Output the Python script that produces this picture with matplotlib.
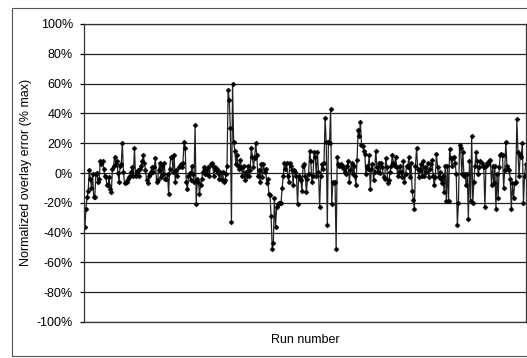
import matplotlib
matplotlib.use("Agg")
import matplotlib.pyplot as plt
from matplotlib.patches import Rectangle
from matplotlib.ticker import FuncFormatter
import numpy as np

# normalized overlay error per run, in % of max (left to right)
seg_1 = [-36, -24, -16, -12, 2, -4, -10, -1, -16, -16, -1, 0, -6, -4, 8, 6, 8, 3,
         -2, -3, -8, -8, -3, -11, -13, 3, 5, 11, 6, 8, 0, -6, 5, 6, 20, 1, -7, -6,
         -6, -4, -3, -2, 1, 4, -2, 17, -2, 1, 2, -2, 3, 5, 8, 12, 7, 2, -5, -7,
         -2, -1, 1, 4, 1, 4, 10, -6, -5, 2, 7, -3, 5, -1, 7, -4, -4, -1, -14, 3, 11]
seg_2 = [11, 1, 12, -6, 2, -2, 4, 5, 6, 4, 7, 21, 17, -6, -11, -2, 0, -5, 5, -1,
         -6, 32, -21, -4, -6, -14, -8, -4, 1, 4, -1, 3, -1, 4, -2, 6, 7, 5, -2, 4,
         2, 3, 0, -4, 1, -5, 1, -6, -5, -1, 5, 56, 49, 30, -33, 60, 21, 15, 6, 12,
         5, 3, 9, 4, -2, 5, -5, 1, -2, 5, -2, 2, 17, 11, 4, 10, 20, 12, -2, 2, -6, 6]
seg_3 = [-3, 6, 1, 3, -7, -4, -14, -15, -29, -51, -47, -17, -36, -23, -21, -20,
         -20, -20, -10, -2, 7, 3, 7, -2, -6, 7, 5, 2, -8, 2, 1, -2, -21, -2, -4,
         -5, -12, 5, 6, -2, -13, -4, -1, 15, 8, -6, -2, 14, 11, -2, 14, 1, -23,
         -2, 6, 3, 7, 37, 21, -35, 21, 20, 43, -21, -6, -7, -6, -51, 11, 6, 5, 6,
         4, 5, 3, 1, -1, 5, 8, -6, 2]
seg_4 = [7, -1, 5, -2, -8, 9, 29, 25, 34, 19, 18, 15, 13, -1, 5, 3, 12, -11, 3, 6,
         -5, 1, 15, 4, 1, 7, 0, 7, 4, -3, -4, 10, 4, -7, -5, 1, 5, 12, 7, 5, 11,
         4, -2, 1, 5, 1, -3, 8, -6, -1, 5, 4, 11, -3, 7, -12, -18, -24, 5, 17, 3,
         -3, 2, 6, -2, 8, -2, 4, 1, 7, -3, 3, 6, 9, -2, -8, -3, 13, 4, -3, 1, -4,
         -7, -2, -13, 5, -19]
seg_5 = [5, -19, 16, 10, 5, 10, 11, 7, -1, -35, -20, 19, 17, -1, 14, -2, -1, -8,
         -1, -31, 8, -19, 25, -20, -6, 5, 14, 8, -1, 4, 8, 7, 5, 4, -23, 5, 7,
         6, 8, 9, -8, 5, -7, 5, -24, -1, -17, 4, 12, 13, 12, -10, 2, 21, 5, 3, 2,
         -4, -24, -7, -17, -7, -6, 36, 14, -2, 12, 11, 20, -20, -2, 6]

overlay_error = seg_1 + seg_2 + seg_3 + seg_4 + seg_5
y_ticks = [-100, -80, -60, -40, -20, 0, 20, 40, 60, 80, 100]

W, H = 527, 358
fig = plt.figure(figsize=(W / 100, H / 100), dpi=100)
plt.rcParams["font.family"] = ["Liberation Sans", "DejaVu Sans"]

# outer chart frame
fig.patches.append(Rectangle((12 / W, 1 - 356 / H), 530 / W, 348 / H,
                             transform=fig.transFigure, fill=False,
                             edgecolor="#555555", linewidth=0.8))

ax = fig.add_axes([84 / W, 1 - 322 / H, 442 / W, 298 / H])
runs = np.arange(len(overlay_error))
ax.plot(runs, overlay_error, color="#222222", linewidth=0.9,
        marker="D", markersize=2.6, markerfacecolor="black",
        markeredgecolor="black", markeredgewidth=0.3)

ax.set_xlim(-0.8, len(overlay_error) - 1 + 0.3)
ax.set_ylim(-100, 100)
ax.set_yticks(y_ticks)
ax.yaxis.set_major_formatter(FuncFormatter(lambda v, _: f"{v:.0f}%"))
ax.set_xticks([])
ax.grid(True, axis="y", color="#222222", linewidth=0.9)
ax.set_axisbelow(True)
for spine in ax.spines.values():
    spine.set_color("#333333")
    spine.set_linewidth(0.9)
ax.tick_params(axis="y", length=3, width=0.9, pad=5, labelsize=9, colors="black")

fig.text(305 / W, 1 - 340 / H, "Run number", ha="center", va="center", fontsize=9)
fig.text(26 / W, 1 - 172 / H, "Normalized overlay error (% max)", ha="center",
         va="center", rotation=90, fontsize=9)

fig.savefig("out.png", dpi=100)
